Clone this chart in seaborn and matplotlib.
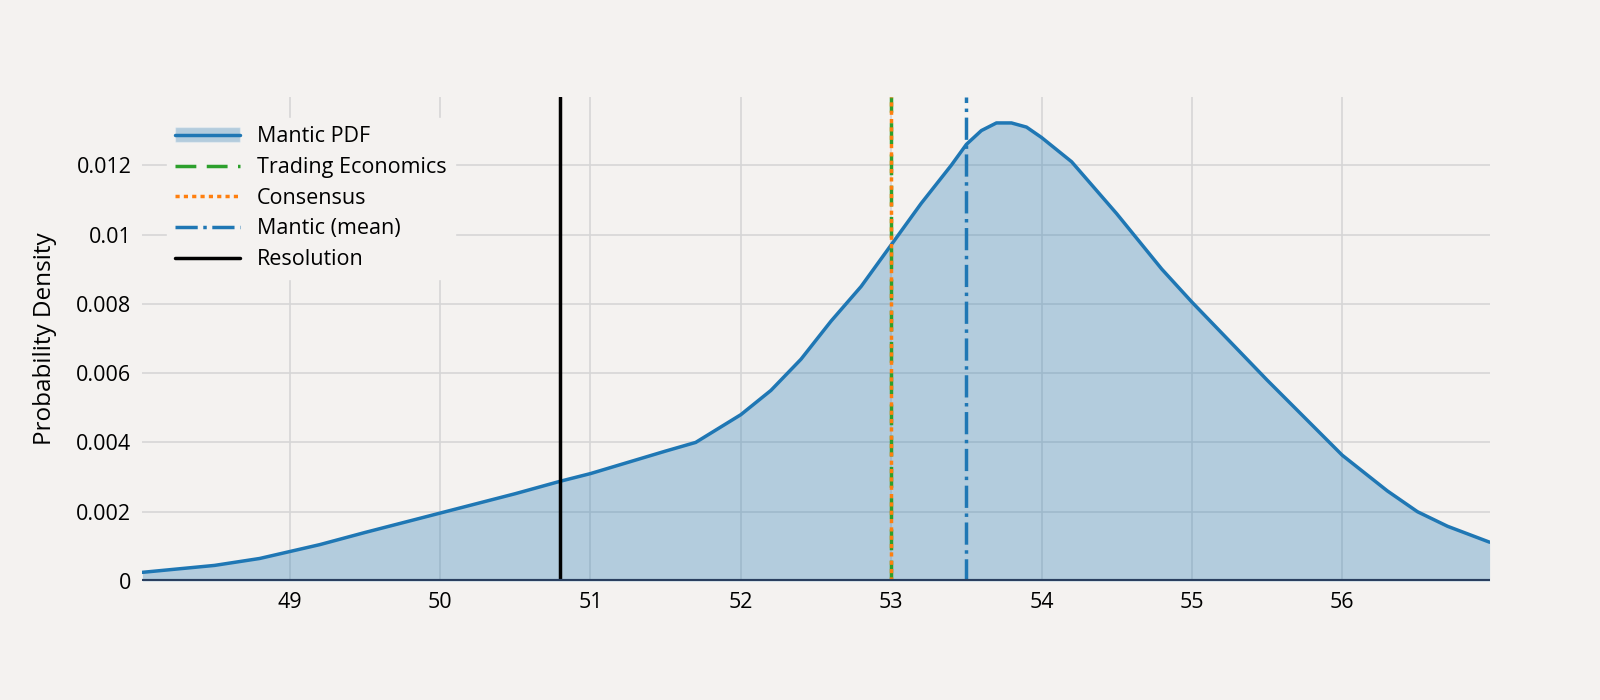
import matplotlib
matplotlib.use("Agg")
import matplotlib.pyplot as plt
import seaborn as sns
import numpy as np
from matplotlib.patches import Patch
from matplotlib.lines import Line2D

x_vals = [48.02, 48.5, 48.8, 49.0, 49.2, 49.5, 50.0, 50.5, 50.8, 51.0, 51.5, 51.7, 52.0, 52.2, 52.4, 52.6, 52.8, 53.0, 53.2, 53.4, 53.5, 53.6, 53.7, 53.8, 53.9, 54.0, 54.2, 54.5, 54.8, 55.0, 55.5, 56.0, 56.3, 56.5, 56.7, 56.98]
pdf_vals = [0.00025, 0.00045, 0.00065, 0.00085, 0.00105, 0.0014, 0.00196, 0.00252, 0.00288, 0.0031, 0.00375, 0.0040, 0.0048, 0.0055, 0.0064, 0.0075, 0.0085, 0.0097, 0.0109, 0.0120, 0.0126, 0.0130, 0.01322, 0.01322, 0.0131, 0.0128, 0.0121, 0.0106, 0.0090, 0.00805, 0.0058, 0.00363, 0.0026, 0.0020, 0.00158, 0.00112]
trading_economics = 53.0
consensus = 53.0
mantic_mean = 53.5
resolution = 50.8
xticks = [49, 50, 51, 52, 53, 54, 55, 56]
yticks = [0, 0.002, 0.004, 0.006, 0.008, 0.01, 0.012]
ytick_labels = ["0", "0.002", "0.004", "0.006", "0.008", "0.01", "0.012"]

bg = "#f4f2f0"
sns.set_theme(style="whitegrid")
plt.rcParams['font.family'] = ['Open Sans', 'DejaVu Sans']
plt.rcParams['text.color'] = 'black'
fig, ax = plt.subplots(figsize=(16, 7), dpi=100)
fig.patch.set_facecolor(bg)
ax.set_facecolor(bg)
fig.subplots_adjust(left=0.089, right=0.931, top=0.861, bottom=0.17)

blue = "#1f77b4"
sns.lineplot(x=x_vals, y=pdf_vals, ax=ax, color=blue, lw=2.5)
ax.fill_between(x_vals, pdf_vals, color=blue, alpha=0.3, lw=0)
ax.axvline(trading_economics, color="#2ca02c", ls=(0, (6, 3)), lw=2.5)
ax.axvline(consensus, color="#ff7f0e", ls=(0, (1.2, 1.2)), lw=2.5)
ax.axvline(mantic_mean, color=blue, ls="-.", lw=2.5)
ax.axvline(resolution, color="black", lw=2.5)
ax.axhline(0, color="#2a3f5f", lw=3)

ax.set_xlim(48.02, 56.98)
ax.set_ylim(0, 0.01396)
ax.set_xticks(xticks)
ax.set_xticklabels([str(t) for t in xticks])
ax.set_yticks(yticks)
ax.set_yticklabels(ytick_labels)
ax.tick_params(labelsize=15.5, length=0, pad=8, labelcolor="black")
ax.grid(True, color="#d6d6d6", lw=1.2)
for s in ax.spines.values():
    s.set_visible(False)
ax.set_ylabel("Probability Density", fontsize=17.5, labelpad=14, color="black")

handles = [
    (Patch(facecolor=blue, alpha=0.3), Line2D([], [], color=blue, lw=2.5)),
    Line2D([], [], color="#2ca02c", ls=(0, (6, 3)), lw=2.5),
    Line2D([], [], color="#ff7f0e", ls=(0, (1.2, 1.2)), lw=2.5),
    Line2D([], [], color=blue, ls="-.", lw=2.5),
    Line2D([], [], color="black", lw=2.5),
]
labels = ["Mantic PDF", "Trading Economics", "Consensus", "Mantic (mean)", "Resolution"]
leg = ax.legend(handles, labels, loc="upper left", bbox_to_anchor=(0.01, 0.98), fontsize=15.5,
                frameon=True, facecolor=bg, edgecolor=bg, framealpha=1, handlelength=3, labelspacing=0.45)
for t in leg.get_texts():
    t.set_color("black")
fig.savefig("out.png", facecolor=bg)
